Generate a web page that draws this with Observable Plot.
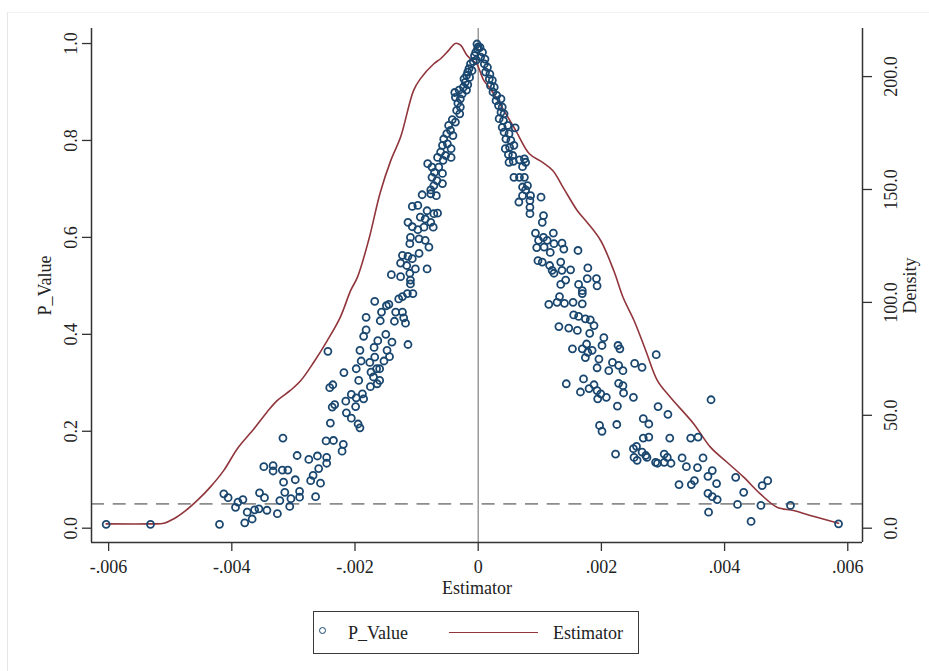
<!DOCTYPE html>
<html><head><meta charset="utf-8">
<script src="https://cdn.jsdelivr.net/npm/d3@7"></script>
<script src="https://cdn.jsdelivr.net/npm/@observablehq/plot@0.6"></script>
<style>
body{margin:0;background:#fff;font-family:"Liberation Serif","Times New Roman",serif;color:#222;}
#wrap{position:relative;width:929px;height:671px;overflow:hidden;background:#fff;}
#frame{position:absolute;left:7px;top:12px;right:-2px;bottom:-2px;border-left:1px solid #e6e6e6;border-top:1px solid #f2f2f2;}
#chart{position:absolute;left:0;top:0;}
#legend{position:absolute;left:313px;top:611px;width:326px;height:43px;box-sizing:border-box;border:1.5px solid #3a3a3a;font-family:"Liberation Serif",serif;font-size:18px;}
#legend span{position:absolute;top:11px;line-height:20px;white-space:nowrap;font-family:"Liberation Serif",serif;}
#legend .mk{position:absolute;left:5px;top:15px;width:5px;height:5px;border:1.7px solid #1a476f;border-radius:50%;}
#legend .ln{position:absolute;left:135px;top:19.5px;width:89px;height:1.7px;background:#90353b;}
</style></head>
<body><div id="wrap"><div id="frame"></div><div id="chart"></div>
<div id="legend"><div class="mk"></div><span style="left:34px">P_Value</span><div class="ln"></div><span style="left:239px">Estimator</span></div>
</div>
<script>
// ---------- data ----------
const xTicks = [-0.006, -0.004, -0.002, 0, 0.002, 0.004, 0.006];
const xTickLabels = ["-.006", "-.004", "-.002", "0", ".002", ".004", ".006"];
const pTicks = [0, 0.2, 0.4, 0.6, 0.8, 1.0];
const densityTicks = [0, 50, 100, 150, 200];
const pThreshold = 0.05;

// [estimator, p-value] — left arm (estimator < 0)
const pointsLeft = [
[-0.00604,0.008],[-0.00532,0.008],[-0.0042,0.008],[-0.00413,0.071],[-0.00406,0.063],[-0.00394,0.043],[-0.0039,0.054],[-0.00382,0.059],
[-0.00375,0.033],[-0.00379,0.011],[-0.00367,0.019],[-0.00363,0.038],[-0.00356,0.040],[-0.00355,0.073],[-0.00347,0.063],[-0.00343,0.037],
[-0.00348,0.127],[-0.00333,0.129],[-0.00333,0.118],[-0.00326,0.030],[-0.00322,0.057],[-0.00317,0.186],[-0.00318,0.120],[-0.00316,0.095],
[-0.00314,0.074],[-0.00309,0.120],[-0.00306,0.045],[-0.00304,0.061],[-0.00297,0.100],[-0.00294,0.150],[-0.0029,0.076],[-0.0029,0.064],
[-0.00275,0.142],[-0.00272,0.098],[-0.00268,0.109],[-0.00264,0.065],[-0.00261,0.149],[-0.00259,0.123],[-0.00256,0.093],[-0.00246,0.134],
[-0.00246,0.146],[-0.00247,0.180],[-0.00235,0.181],[-0.0024,0.217],[-0.00244,0.365],[-0.00241,0.290],[-0.00236,0.296],[-0.00237,0.250],
[-0.00233,0.255],[-0.00219,0.173],[-0.00221,0.159],[-0.00218,0.321],[-0.00215,0.262],[-0.00214,0.238],[-0.00206,0.227],[-0.00206,0.276],
[-0.00199,0.251],[-0.00198,0.269],[-0.00195,0.215],[-0.00192,0.207],[-0.00194,0.305],[-0.00198,0.329],[-0.00192,0.367],[-0.0019,0.345],
[-0.00188,0.277],[-0.00186,0.267],[-0.00186,0.396],[-0.00182,0.409],[-0.00182,0.435],[-0.00176,0.342],[-0.00175,0.292],[-0.00174,0.322],
[-0.0017,0.312],[-0.00169,0.373],[-0.00168,0.468],[-0.00168,0.353],[-0.00165,0.329],[-0.00164,0.298],[-0.0016,0.305],[-0.00163,0.387],
[-0.0016,0.329],[-0.00159,0.428],[-0.00157,0.446],[-0.00153,0.345],[-0.0015,0.400],[-0.00149,0.459],[-0.00145,0.462],[-0.00148,0.367],
[-0.00144,0.354],[-0.0014,0.384],[-0.00136,0.427],[-0.00134,0.446],[-0.00129,0.473],[-0.00123,0.446],[-0.00121,0.434],[-0.00118,0.423],
[-0.00114,0.379],[-0.00123,0.478],[-0.00115,0.484],[-0.00106,0.484],[-0.0011,0.504],
[-0.00091,0.688],[-0.00077,0.690],[-0.00068,0.686],[-0.00107,0.664],[-0.00098,0.666],[-0.00083,0.655],[-0.00072,0.649],[-0.00066,0.650],
[-0.00114,0.631],[-0.00094,0.642],[-0.00086,0.638],[-0.00077,0.631],[-0.00107,0.622],[-0.00098,0.616],[-0.00088,0.621],[-0.00073,0.621],
[-0.0011,0.600],[-0.00096,0.597],[-0.00086,0.594],[-0.00111,0.587],[-0.0008,0.580],[-0.00096,0.567],[-0.00123,0.563],[-0.00114,0.561],
[-0.00107,0.556],[-0.00126,0.547],[-0.00116,0.542],[-0.00102,0.535],[-0.00083,0.535],[-0.00141,0.523],[-0.00126,0.519],[-0.00111,0.526],
[-0.0011,0.512],
[-0.00002,0.999],[-0.00001,0.989],[-0.00004,0.982],[0.0,0.993],[-0.00006,0.975],[-0.00003,0.966],[-0.00008,0.963],[-0.000125,0.958],
[-0.00015,0.948],[-0.0001,0.944],[-0.00017,0.941],[-0.00019,0.934],[-0.00014,0.930],[-0.00023,0.927],[-0.00021,0.920],[-0.00017,0.915],
[-0.00024,0.910],[-0.00019,0.904],[-0.00031,0.904],[-0.00038,0.899],[-0.00026,0.896],[-0.00037,0.889],[-0.00029,0.886],[-0.00033,0.877],
[-0.00029,0.869],[-0.00035,0.862],[-0.0003,0.855],[-0.00042,0.843],[-0.00037,0.838],[-0.00048,0.831],[-0.00045,0.821],[-0.00051,0.814],
[-0.00041,0.810],[-0.00056,0.803],[-0.0005,0.793],[-0.00058,0.790],[-0.00044,0.783],[-0.00061,0.776],[-0.00053,0.769],[-0.00066,0.765],
[-0.00057,0.759],[-0.00044,0.765],[-0.00082,0.752],[-0.00075,0.745],[-0.00064,0.745],[-0.00071,0.734],[-0.00058,0.732],[-0.00075,0.724],
[-0.00067,0.717],[-0.00058,0.711],[-0.00072,0.707],[-0.00077,0.698]
];

// [estimator, p-value] — right arm (estimator > 0)
const pointsRight = [
[0.00003,0.992],[0.00007,0.982],[0.00004,0.972],[0.00011,0.968],[0.0001,0.958],[0.00015,0.951],[0.00012,0.941],[0.00019,0.937],
[0.00018,0.927],[0.00023,0.924],[0.0002,0.913],[0.00026,0.910],[0.00024,0.900],[0.0003,0.893],[0.00029,0.882],[0.00037,0.886],
[0.00033,0.872],[0.00039,0.869],[0.00037,0.858],[0.00042,0.855],[0.00034,0.845],[0.00041,0.841],[0.00039,0.827],[0.00048,0.831],
[0.0006,0.826],[0.00042,0.817],[0.0005,0.814],[0.00045,0.803],[0.00053,0.800],[0.00044,0.783],[0.00051,0.786],[0.00058,0.790],
[0.00049,0.771],[0.00056,0.769],[0.0005,0.755],[0.00057,0.757],[0.00067,0.760],[0.00075,0.762],[0.00072,0.746],[0.00077,0.755],
[0.00058,0.724],[0.00067,0.724],[0.00075,0.724],[0.00072,0.704],[0.00077,0.698],[0.0008,0.707],[0.00072,0.686],[0.00085,0.686],
[0.00102,0.683],
[0.00066,0.673],[0.00084,0.676],[0.00084,0.662],[0.00084,0.649],[0.00106,0.645],[0.00104,0.631],[0.00093,0.609],[0.00098,0.594],
[0.00106,0.600],[0.00112,0.594],[0.00122,0.609],[0.00095,0.579],[0.00107,0.580],[0.00123,0.587],[0.00136,0.588],[0.00139,0.576],
[0.00117,0.569],[0.00162,0.573],[0.00097,0.552],[0.00104,0.549],[0.00116,0.542],[0.00134,0.549],[0.00123,0.526],[0.0012,0.532],
[0.00136,0.532],[0.0015,0.533],[0.00142,0.512],[0.00134,0.503],[0.00178,0.537],[0.00177,0.515],[0.00192,0.515],[0.00169,0.490],
[0.00193,0.500],
[0.001146,0.462],[0.00128,0.466],[0.00132,0.478],[0.0014,0.464],[0.00154,0.466],[0.00169,0.463],[0.00169,0.484],[0.00163,0.503],
[0.00131,0.416],[0.00147,0.413],[0.00161,0.408],[0.00155,0.440],[0.00163,0.437],[0.00174,0.432],[0.00182,0.430],[0.00188,0.418],
[0.00181,0.402],[0.00204,0.393],[0.00201,0.377],[0.00153,0.370],[0.00169,0.370],[0.00176,0.380],[0.00178,0.363],[0.00185,0.367],
[0.00174,0.352],[0.00196,0.349],[0.00193,0.331],[0.00212,0.325],[0.00218,0.342],[0.00227,0.377],[0.0023,0.370],[0.00228,0.336],
[0.00235,0.325],[0.00254,0.340],[0.00266,0.332],[0.00289,0.358],[0.00143,0.298],[0.00166,0.281],[0.00171,0.308],[0.0018,0.288],
[0.00188,0.296],[0.00193,0.284],[0.00194,0.267],[0.00199,0.277],[0.00208,0.270],[0.00228,0.299],[0.00235,0.294],[0.00236,0.279],
[0.00252,0.270],[0.00226,0.252],[0.00197,0.212],[0.00201,0.200],[0.00225,0.214],[0.00223,0.153],[0.00268,0.226],[0.00277,0.215],
[0.00292,0.251],[0.00308,0.235],[0.00268,0.186],[0.00277,0.188],[0.00311,0.186],[0.00252,0.164],[0.00257,0.169],[0.00253,0.146],
[0.00258,0.140],[0.00266,0.157],[0.00272,0.150],[0.00274,0.146],[0.00288,0.136],[0.00291,0.134],[0.00302,0.153],[0.00307,0.146],
[0.00313,0.134],[0.00302,0.136],[0.00331,0.145],[0.00338,0.127],[0.00345,0.186],[0.00357,0.188],[0.00356,0.125],[0.00365,0.145],
[0.00378,0.265],[0.00326,0.090],[0.00346,0.090],[0.00351,0.098],[0.00373,0.107],[0.0038,0.119],[0.00387,0.092],[0.00373,0.072],
[0.0038,0.065],[0.00388,0.059],[0.00374,0.033],[0.00418,0.105],[0.00431,0.074],[0.00421,0.049],[0.00443,0.014],[0.00461,0.088],
[0.0047,0.098],[0.00459,0.047],[0.00507,0.047],[0.00585,0.009]
];

// [estimator, kernel density] — density curve (right axis)
const densityCurve = [
[-0.00604,1.9],[-0.00532,1.9],[-0.0051,2.2],[-0.00494,4.2],[-0.00475,7.8],[-0.00456,12.3],[-0.00435,18.2],[-0.00413,25.6],
[-0.00391,35.2],[-0.00364,44.0],[-0.00343,51.4],[-0.00326,56.6],[-0.00305,61.0],[-0.00288,65.4],[-0.00267,73.5],[-0.00245,83.1],
[-0.00224,93.4],[-0.00207,105.3],[-0.00196,111.2],[-0.00178,127.4],[-0.00159,148.7],[-0.00142,162.8],[-0.00126,173.2],[-0.00105,193.8],
[-0.00094,199.0],[-0.00072,205.7],[-0.00061,207.9],[-0.00048,211.6],[-0.00037,214.7],[-0.00029,214.0],[-0.00018,209.3],[-0.00009,207.1],
[-0.00002,205.4],[0.00009,198.3],[0.00018,195.3],[0.00045,183.5],[0.00061,176.1],[0.00083,165.8],[0.00104,162.1],[0.00121,158.4],
[0.00139,150.4],[0.00161,140.6],[0.00177,135.4],[0.00199,127.3],[0.0022,114.1],[0.00236,101.7],[0.00253,92.0],[0.00272,78.7],
[0.00291,65.4],[0.00312,58.0],[0.0035,46.2],[0.00377,35.9],[0.00404,29.2],[0.00431,22.6],[0.00458,15.2],[0.00485,9.3],
[0.00512,7.8],[0.00539,5.6],[0.00585,2.2]
];

// ---------- scales ----------
const xDomain = [-0.006278, 0.006239];
const pDomain = [-0.0295, 1.031];
const dDomain = [-6.33, 221.3];
const toP = d => pDomain[0] + (d - dDomain[0]) / (dDomain[1] - dDomain[0]) * (pDomain[1] - pDomain[0]);
const points = pointsLeft.concat(pointsRight);
const xLab = new Map(xTicks.map((t, i) => [t, xTickLabels[i]]));
const dTickP = densityTicks.map(toP);
const dLab = d => densityTicks[d3.minIndex(dTickP, v => Math.abs(v - d))].toFixed(1);

const FONT = "'Liberation Serif', 'Times New Roman', serif";
const axisColor = "#333";
const chart = Plot.plot({
  width: 929, height: 600,
  marginLeft: 91, marginRight: 67, marginTop: 28, marginBottom: 58,
  style: {fontFamily: FONT, fontSize: "18px", color: "#222", background: "transparent", overflow: "visible"},
  x: {domain: xDomain},
  y: {domain: pDomain},
  marks: [
    Plot.ruleX([0], {stroke: "#8a8a8a", strokeWidth: 1.3}),
    Plot.ruleY([pThreshold], {stroke: "#8c8c8c", strokeWidth: 1.8, strokeDasharray: "13,8.7"}),
    Plot.line(densityCurve, {x: d => d[0], y: d => toP(d[1]), stroke: "#90353b", strokeWidth: 1.6, curve: "catmull-rom"}),
    Plot.dot(points, {x: d => d[0], y: d => d[1], r: 3.5, stroke: "#1a476f", strokeWidth: 1.8, fill: "none"}),
    Plot.ruleX([xDomain[0], xDomain[1]], {stroke: axisColor, strokeWidth: 1.5}),
    Plot.ruleY([pDomain[0]], {stroke: axisColor, strokeWidth: 1.5}),
    Plot.axisX({ticks: xTicks, tickFormat: d => xLab.get(d), tickSize: 9, tickPadding: 9, stroke: axisColor, strokeWidth: 1.3, fontFamily: FONT, label: null}),
    Plot.axisY({anchor: "left", ticks: pTicks, tickFormat: d => d.toFixed(1), tickRotate: -90, tickSize: 9, tickPadding: 6, stroke: axisColor, strokeWidth: 1.3, fontFamily: FONT, label: null}),
    Plot.axisY({anchor: "right", ticks: dTickP, tickFormat: dLab, tickRotate: -90, lineAnchor: "top", tickSize: 9, tickPadding: 13, stroke: axisColor, strokeWidth: 1.3, fontFamily: FONT, label: null}),
    Plot.text(["Estimator"], {text: d => d, frameAnchor: "bottom", lineAnchor: "middle", textAnchor: "middle", dy: 46, fontFamily: FONT, fontSize: 18}),
    Plot.text(["P_Value"], {text: d => d, frameAnchor: "left", lineAnchor: "middle", textAnchor: "middle", dx: -46, rotate: -90, fontFamily: FONT, fontSize: 18}),
    Plot.text(["Density"], {text: d => d, frameAnchor: "right", lineAnchor: "middle", textAnchor: "middle", dx: 48, rotate: -90, fontFamily: FONT, fontSize: 18})
  ]
});
document.getElementById("chart").appendChild(chart);
</script>
</body></html>
